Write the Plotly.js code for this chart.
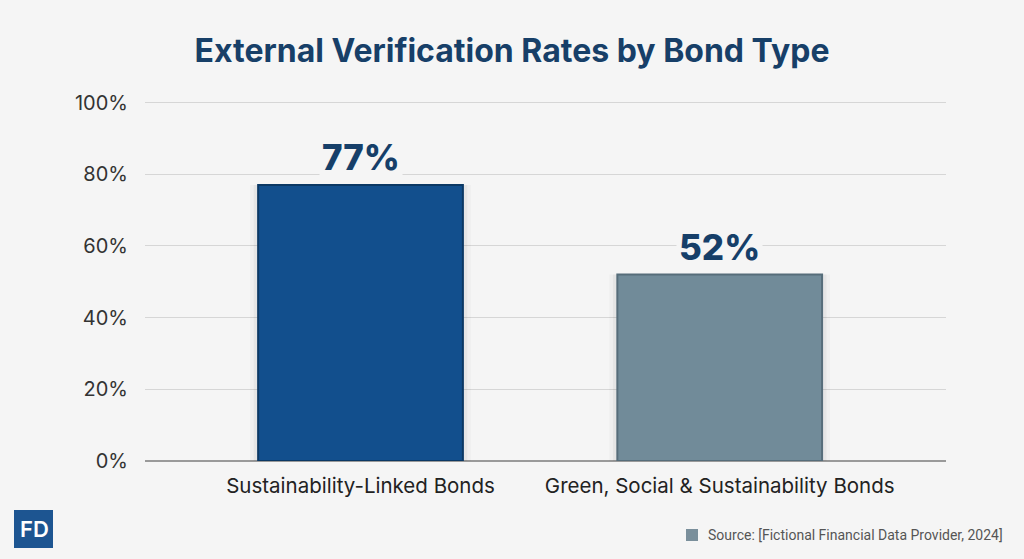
<!DOCTYPE html>
<html>
<head>
<meta charset="utf-8">
<script src="https://cdn.plot.ly/plotly-3.0.1.min.js"></script>
<style>
  html, body { margin: 0; padding: 0; background: #f5f5f5; }
  #chart { width: 1024px; height: 559px; }
</style>
</head>
<body>
<div id="chart"></div>
<script>
const categories = ["Sustainability-Linked Bonds", "Green, Social & Sustainability Bonds"];
const rates = [77, 52];
const rateLabels = ["77%", "52%"];
const barColors = ["#124f8d", "#718b99"];
const barEdges = ["#0b3864", "#566d7a"];
const yTicks = [0, 20, 40, 60, 80, 100];
const yTickText = ["0%", "20%", "40%", "60%", "80%", "100%"];

// soft shadow: a couple of faint, slightly wider bars behind the real ones
const shadowOuter = {
  x: categories,
  y: rates,
  type: "bar",
  width: 0.615,
  marker: { color: "rgba(0,0,0,0.025)" },
  hoverinfo: "skip",
  showlegend: false,
};
const shadowInner = {
  x: categories,
  y: rates,
  type: "bar",
  width: 0.595,
  marker: { color: "rgba(0,0,0,0.04)" },
  hoverinfo: "skip",
  showlegend: false,
};

const bars = {
  x: categories,
  y: rates,
  type: "bar",
  width: 0.57,
  marker: { color: barColors, line: { color: barEdges, width: 2 } },
  hoverinfo: "x+y",
  showlegend: false,
};

const labels = categories.map((c, i) => ({
  x: c,
  y: rates[i],
  text: rateLabels[i],
  showarrow: false,
  yanchor: "bottom",
  yshift: 4,
  bgcolor: "#f5f5f5",
  borderpad: 2,
  font: { family: "Inter, 'Open Sans', sans-serif", size: 35, color: "#163f69", weight: 800 },
}));

const layout = {
  width: 1024,
  height: 559,
  paper_bgcolor: "#f5f5f5",
  plot_bgcolor: "#f5f5f5",
  margin: { l: 145, r: 78, t: 99, b: 98 },
  barmode: "overlay",
  title: {
    text: "<b>External Verification Rates by Bond Type</b>",
    x: 0.5,
    xanchor: "center",
    y: 0.91,
    yanchor: "middle",
    font: { family: "Inter, 'Open Sans', sans-serif", size: 32, color: "#173f68" },
  },
  xaxis: {
    range: [-0.6, 1.63],
    showgrid: false,
    zeroline: false,
    showline: false,
    ticks: "",
    ticklabelstandoff: 10,
    tickfont: { family: "Inter, Roboto, sans-serif", size: 20.5, color: "#222" },
  },
  yaxis: {
    range: [0, 101],
    tickvals: yTicks,
    ticktext: yTickText,
    showgrid: true,
    gridcolor: "#d6d6d6",
    gridwidth: 1,
    zeroline: true,
    zerolinecolor: "#9a9a9a",
    zerolinewidth: 1.5,
    ticks: "",
    ticklabelstandoff: 16,
    tickfont: { family: "Inter, Roboto, sans-serif", size: 20, color: "#333" },
  },
  annotations: labels.concat([
    {
      xref: "paper", yref: "paper",
      x: (1005 - 145) / 801, y: (461 - 535) / 362,
      xanchor: "right", yanchor: "middle",
      text: "Source: [Fictional Financial Data Provider, 2024]",
      showarrow: false,
      font: { family: "Roboto, sans-serif", size: 14, color: "#555" },
    },
    {
      xref: "paper", yref: "paper",
      x: (34 - 145) / 801, y: (461 - 529) / 362,
      xanchor: "center", yanchor: "middle",
      text: "FD",
      showarrow: false,
      font: { family: "Inter, sans-serif", size: 22, color: "#ffffff", weight: 600 },
    },
  ]),
  shapes: [
    {
      type: "rect", xref: "paper", yref: "paper",
      x0: (686 - 145) / 801, x1: (698 - 145) / 801,
      y0: (461 - 541) / 362, y1: (461 - 529) / 362,
      fillcolor: "#7a8f9b", line: { width: 0 },
    },
    {
      type: "rect", xref: "paper", yref: "paper",
      x0: (14 - 145) / 801, x1: (53 - 145) / 801,
      y0: (461 - 548) / 362, y1: (461 - 510) / 362,
      fillcolor: "#1d5591", line: { width: 0 },
    },
  ],
};

Plotly.newPlot("chart", [shadowOuter, shadowInner, bars], layout, { displayModeBar: false, staticPlot: true });
</script>
</body>
</html>
